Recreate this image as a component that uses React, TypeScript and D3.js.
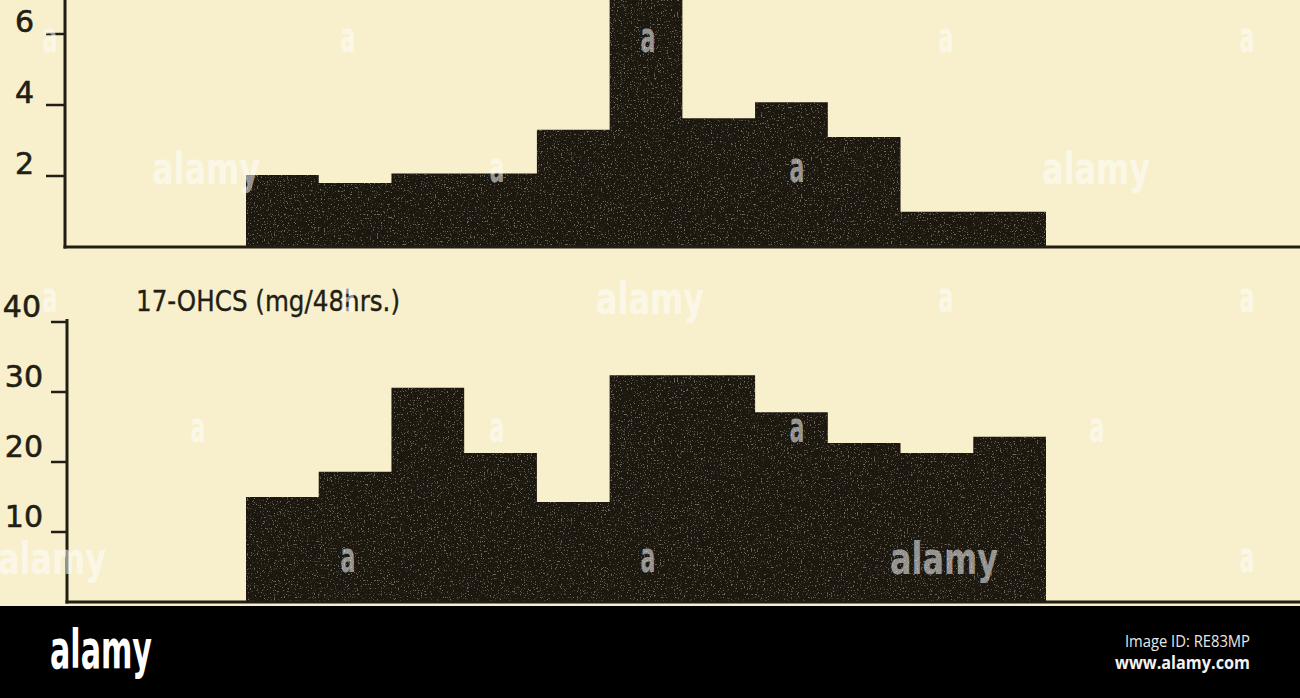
import React from "react";
import * as d3 from "d3";

// ---- data ----
const days = ["1", "2", "3", "4", "5", "6", "7", "8", "9", "10", "11"];
const topValues = [2.03, 1.8, 2.07, 2.07, 3.3, 7.6, 3.63, 4.08, 3.1, 0.99, 0.99];
const bottomValues = [15.0, 18.6, 30.6, 21.3, 14.3, 32.4, 32.4, 27.1, 22.7, 21.3, 23.6];
const topTicks = [2, 4, 6];
const bottomTicks = [10, 20, 30, 40];
const bottomTitle = "17-OHCS (mg/48hrs.)";

// watermark grid
const wmRowsY = [52, 182, 312, 442, 572];
const wmColsEven = [50, 348, 648, 946, 1247];
const wmColsOdd = [198, 497, 797, 1097];
const wmBig = [
  { x: 206, row: 1 },
  { x: 1096, row: 1 },
  { x: 650, row: 2 },
  { x: 52, row: 4 },
  { x: 944, row: 4 },
];

const W = 1300;
const H = 698;
const BG = "#f8f0cd";
const INK = "#1c1810";
const LINE = "#231e14";

function StepShape({ values, y, x }: { values: number[]; y: d3.ScaleLinear<number, number>; x: d3.ScaleBand<string> }) {
  const pts = days.map((d, i) => ({ px: x(d)!, v: values[i] }));
  pts.push({ px: x(days[days.length - 1])! + x.bandwidth(), v: values[values.length - 1] });
  const area = d3
    .area<{ px: number; v: number }>()
    .x((p) => p.px)
    .y0(y(0))
    .y1((p) => y(p.v))
    .curve(d3.curveStepAfter);
  const dStr = area(pts) || "";
  return (
    <g>
      <path d={dStr} fill={INK} />
      <path d={dStr} fill={INK} filter="url(#speck)" opacity={0.5} />
    </g>
  );
}

export default function App() {
  const x = d3.scaleBand<string>().domain(days).range([246, 1046]).padding(0);
  const yTop = d3.scaleLinear().domain([0, 7]).range([247, 247 - 7 * 35.5]);
  const yBot = d3.scaleLinear().domain([0, 40]).range([602, 322]);

  const tickFont = "'DejaVu Sans', 'Open Sans', sans-serif";

  return (
    <svg
      width={W}
      height={H}
      viewBox={`0 0 ${W} ${H}`}
      style={{ position: "absolute", left: 0, top: 0, display: "block" }}
    >
      <defs>
        <filter id="speck" x="0" y="0" width="100%" height="100%">
          <feTurbulence type="fractalNoise" baseFrequency="0.7" numOctaves="2" seed="4" />
          <feColorMatrix
            type="matrix"
            values="0 0 0 0 0.55  0 0 0 0 0.52  0 0 0 0 0.42  0 0 0 7 -4.2"
          />
          <feComposite in2="SourceGraphic" operator="in" />
        </filter>
      </defs>
      <rect x={0} y={0} width={W} height={H} fill={BG} />

      {/* ---- top panel ---- */}
      <StepShape values={topValues} y={yTop} x={x} />
      <line x1={65} x2={65} y1={-5} y2={yTop(0) + 1.5} stroke={LINE} strokeWidth={3} />
      <line x1={63.5} x2={W} y1={yTop(0)} y2={yTop(0)} stroke={LINE} strokeWidth={3} />
      {topTicks.map((t) => (
        <g key={"tt" + t}>
          <line x1={46} x2={65} y1={yTop(t)} y2={yTop(t)} stroke={LINE} strokeWidth={2.5} />
          <text
            x={34}
            y={yTop(t) - 2}
            textAnchor="end"
            fontFamily={tickFont}
            fontSize={30}
            fill={LINE}
            stroke={LINE}
            strokeWidth={0.6}
          >
            {t}
          </text>
        </g>
      ))}

      {/* ---- bottom panel ---- */}
      <StepShape values={bottomValues} y={yBot} x={x} />
      <line x1={67} x2={67} y1={yBot(40) - 3} y2={yBot(0) + 1.5} stroke={LINE} strokeWidth={3} />
      <line x1={65.5} x2={W} y1={yBot(0)} y2={yBot(0)} stroke={LINE} strokeWidth={3} />
      {bottomTicks.map((t) => (
        <g key={"bt" + t}>
          <line x1={51} x2={67} y1={yBot(t)} y2={yBot(t)} stroke={LINE} strokeWidth={2.5} />
          <text
            x={t === 40 ? 41 : 43}
            y={yBot(t) - 5}
            textAnchor="end"
            fontFamily={tickFont}
            fontSize={30}
            fill={LINE}
            stroke={LINE}
            strokeWidth={0.6}
          >
            {t}
          </text>
        </g>
      ))}
      <text
        x={136}
        y={311}
        fontFamily={tickFont}
        fontSize={29}
        fill={LINE}
        stroke={LINE}
        strokeWidth={0.4}
        textLength={264}
        lengthAdjust="spacingAndGlyphs"
      >
        {bottomTitle}
      </text>

      {/* ---- watermarks ---- */}
      <g
        fill="#ffffff"
        fillOpacity={0.55}
        fontFamily="'DejaVu Sans Condensed', 'DejaVu Sans', sans-serif"
        fontWeight="bold"
        textAnchor="middle"
      >
        {wmRowsY.map((yy, r) =>
          (r % 2 === 0 ? wmColsEven : wmColsOdd)
            .filter((cx) => !wmBig.some((b) => b.row === r && Math.abs(b.x - cx) < 60))
            .map((cx) => (
              <text key={`a${r}-${cx}`} x={cx} y={yy} fontSize={42} textLength={15} lengthAdjust="spacingAndGlyphs">
                a
              </text>
            ))
        )}
        {wmBig.map((b) => (
          <text
            key={`big${b.x}`}
            x={b.x}
            y={wmRowsY[b.row] + 2}
            fontSize={44}
            textLength={108}
            lengthAdjust="spacingAndGlyphs"
          >
            alamy
          </text>
        ))}
      </g>

      {/* ---- footer ---- */}
      <rect x={0} y={606} width={W} height={H - 606} fill="#000" />
      <text
        x={50}
        y={668}
        fill="#fff"
        fontFamily="'DejaVu Sans Condensed', 'DejaVu Sans', sans-serif"
        fontWeight="bold"
        fontSize={54}
        textLength={102}
        lengthAdjust="spacingAndGlyphs"
      >
        alamy
      </text>
      <text
        x={1250}
        y={647}
        fill="#e8e8e8"
        textAnchor="end"
        fontFamily="'Open Sans', sans-serif"
        fontSize={16}
        textLength={125}
        lengthAdjust="spacingAndGlyphs"
      >
        Image ID: RE83MP
      </text>
      <text
        x={1250}
        y={669}
        fill="#f2f2f2"
        textAnchor="end"
        fontFamily="'Open Sans', sans-serif"
        fontWeight="bold"
        fontSize={18}
        textLength={135}
        lengthAdjust="spacingAndGlyphs"
      >
        www.alamy.com
      </text>
    </svg>
  );
}
